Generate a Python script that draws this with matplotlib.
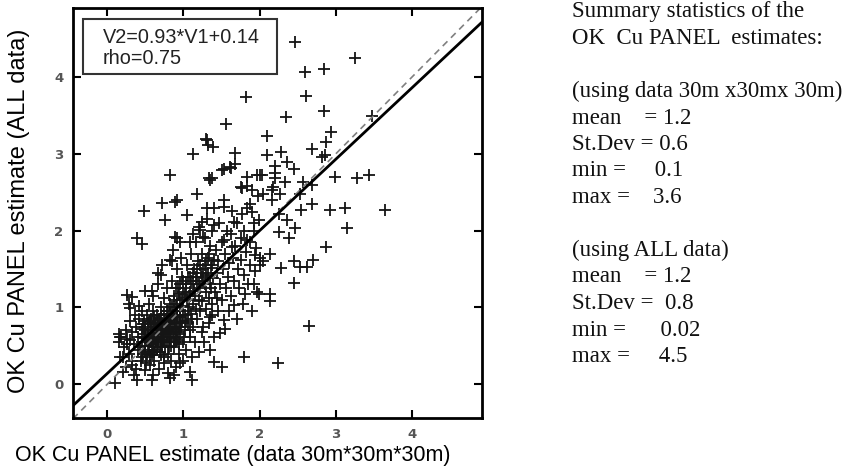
import numpy as np
import matplotlib
matplotlib.use("Agg")
import matplotlib.pyplot as plt
from matplotlib.patches import Rectangle

# fit shown in the box
slope, intercept = 0.93, 0.14
rho = 0.75

ticks = [0, 1, 2, 3, 4]
xlim = (-0.45, 4.92)
ylim = (-0.44, 4.90)

xlabel = "OK Cu PANEL estimate (data 30m*30m*30m)"
ylabel = "OK Cu PANEL estimate (ALL data)"

stats_lines = [
    "Summary statistics of the",
    "OK  Cu PANEL  estimates:",
    "",
    "(using data 30m x30mx 30m)",
    "mean    = 1.2",
    "St.Dev = 0.6",
    "min =     0.1",
    "max =    3.6",
    "",
    "(using ALL data)",
    "mean    = 1.2",
    "St.Dev =  0.8",
    "min =      0.02",
    "max =     4.5",
]

# panel estimates (x = 30m data, y = all data)
pts_sparse = [
    (2.47, 4.46), (3.25, 4.25), (2.59, 4.07), (2.85, 4.11), (1.82, 3.74), (2.61, 3.76),
    (2.85, 3.56), (2.35, 3.48), (1.56, 3.39), (3.47, 3.49), (2.10, 3.23), (2.94, 3.29),
    (1.30, 3.19), (1.32, 3.11), (1.39, 3.09), (1.12, 3.00), (1.68, 3.01), (2.10, 2.99),
    (2.28, 3.02), (2.69, 3.07), (2.87, 3.16), (2.86, 2.99), (2.82, 2.96), (2.36, 2.89),
    (1.68, 2.87), (2.20, 2.84), (2.45, 2.80), (1.53, 2.80), (1.62, 2.81), (2.20, 2.75),
    (0.83, 2.73), (1.33, 2.68), (1.37, 2.68), (1.83, 2.70), (2.01, 2.73), (2.20, 2.68),
    (2.34, 2.63), (2.57, 2.63), (2.99, 2.70), (3.28, 2.68), (3.43, 2.72), (1.75, 2.57),
    (1.83, 2.58), (2.18, 2.57), (1.96, 2.72), (2.03, 2.72), (2.69, 2.60), (1.90, 2.53),
    (2.05, 2.48), (2.16, 2.53), (2.16, 2.40), (2.27, 2.48), (2.53, 2.48), (2.69, 2.35),
    (2.55, 2.27), (2.93, 2.27), (3.12, 2.29), (3.65, 2.27), (3.15, 2.03), (1.90, 2.24),
    (1.99, 2.14), (2.25, 2.22), (2.36, 2.14), (2.25, 1.98), (2.38, 1.91), (2.47, 2.03),
    (2.87, 1.79), (2.14, 1.70), (1.94, 1.68), (2.05, 1.61), (2.01, 1.55), (2.28, 1.52),
    (2.45, 1.61), (2.53, 1.53), (2.62, 1.53), (2.70, 1.62), (2.45, 1.32), (1.92, 1.31),
    (1.99, 1.18), (2.14, 1.18), (2.13, 1.08), (2.65, 0.76), (2.24, 0.27), (1.79, 0.36),
    (1.51, 0.23), (1.40, 0.29), (1.35, 0.44), (1.48, 0.67), (1.53, 0.84), (1.35, 0.88),
    (1.11, 0.05), (1.09, 0.16), (1.26, 0.75), (1.37, 0.90), (1.66, 1.03), (1.44, 1.12),
    (1.81, 1.18), (0.96, 0.27), (0.87, 0.12), (0.48, 2.26), (0.72, 2.36), (0.89, 2.37),
    (0.76, 2.14), (0.39, 1.90), (0.46, 1.83), (0.89, 1.92), (0.83, 1.62), (0.70, 1.42),
    (0.26, 1.16), (0.50, 1.22), (0.59, 1.22), (0.32, 1.14), (1.31, 3.18), (1.35, 2.66),
    (1.18, 2.48), (0.91, 2.40), (1.22, 2.01), (1.31, 2.29), (1.53, 2.31), (1.61, 2.83),
    (1.51, 2.79), (0.10, 0.01), (0.28, 1.05), (0.17, 0.62), (0.26, 0.59), (0.21, 0.16),
    (0.39, 0.05), (0.59, 0.05), (0.85, 1.61), (1.77, 2.55), (1.88, 2.35), (1.24, 2.11),
    (1.40, 2.07), (1.66, 2.11), (1.77, 2.22), (0.91, 1.90), (1.09, 1.85), (1.26, 1.92),
    (1.53, 1.88), (1.64, 1.79), (1.83, 1.88), (1.92, 2.00), (0.30, 0.99), (0.15, 0.66),
    (0.26, 0.53), (0.17, 0.36), (0.32, 0.25),
]

pts_core = [
    (0.15, 0.55), (0.18, 0.62), (0.20, 0.35), (0.22, 0.48), (0.25, 0.70), (0.28, 0.40),
    (0.30, 0.58), (0.30, 0.82), (0.32, 0.30), (0.33, 0.68), (0.35, 0.52), (0.36, 0.90),
    (0.38, 0.20), (0.38, 0.75), (0.40, 0.45), (0.40, 0.62), (0.42, 0.85), (0.42, 1.02),
    (0.25, 0.22), (0.35, 0.12),
    (0.44, 0.30), (0.45, 0.55), (0.45, 0.72), (0.46, 0.95), (0.47, 0.40), (0.48, 0.65),
    (0.48, 0.82), (0.50, 0.50), (0.50, 0.60), (0.50, 0.75), (0.50, 0.18), (0.52, 0.90),
    (0.52, 0.35), (0.53, 0.68), (0.54, 0.78), (0.55, 0.45), (0.55, 0.58), (0.55, 1.05),
    (0.56, 0.25), (0.57, 0.70), (0.58, 0.62), (0.58, 0.85), (0.59, 0.40), (0.60, 0.52),
    (0.60, 0.75), (0.60, 0.95), (0.60, 0.12), (0.60, 1.15),
    (0.62, 0.30), (0.62, 0.66), (0.63, 0.80), (0.64, 0.55), (0.65, 0.45), (0.65, 0.70),
    (0.65, 0.90), (0.66, 1.30), (0.67, 0.60), (0.68, 0.75), (0.68, 0.20), (0.69, 0.85),
    (0.70, 0.50), (0.70, 0.65), (0.70, 1.00), (0.71, 0.38), (0.72, 0.72), (0.72, 0.80),
    (0.73, 0.58), (0.74, 0.92), (0.75, 0.28), (0.75, 0.68), (0.75, 1.12), (0.76, 0.48),
    (0.77, 0.78), (0.78, 0.62), (0.78, 0.85), (0.79, 1.25), (0.80, 0.40), (0.80, 0.70),
    (0.80, 0.95), (0.80, 0.15), (0.66, 1.45), (0.72, 1.55),
    (0.82, 0.55), (0.82, 0.82), (0.83, 1.05), (0.84, 0.65), (0.84, 0.30), (0.85, 0.75),
    (0.85, 1.35), (0.86, 0.90), (0.87, 0.48), (0.88, 0.62), (0.88, 1.15), (0.89, 0.80),
    (0.90, 0.70), (0.90, 1.00), (0.90, 0.22), (0.91, 1.50), (0.92, 0.58), (0.92, 0.88),
    (0.93, 1.25), (0.94, 0.40), (0.94, 0.75), (0.95, 1.10), (0.96, 0.65), (0.96, 0.95),
    (0.97, 1.65), (0.98, 0.82), (0.98, 1.40), (0.99, 0.30), (1.00, 0.55), (1.00, 1.02),
    (1.00, 1.20), (0.86, 1.75), (0.95, 1.85), (0.83, 0.08),
    (1.02, 0.70), (1.02, 0.90), (1.03, 1.30), (1.04, 0.45), (1.05, 1.10), (1.05, 1.55),
    (1.06, 0.80), (1.07, 1.00), (1.08, 0.62), (1.08, 1.40), (1.09, 1.20), (1.10, 0.92),
    (1.10, 1.70), (1.11, 0.35), (1.12, 1.05), (1.12, 1.30), (1.13, 0.75), (1.14, 1.50),
    (1.15, 1.15), (1.15, 0.55), (1.16, 0.98), (1.17, 1.85), (1.18, 1.35), (1.18, 0.85),
    (1.19, 1.60), (1.20, 1.10), (1.20, 0.42), (1.20, 2.05), (1.05, 2.20), (1.12, 1.95),
    (1.22, 1.25), (1.22, 0.95), (1.23, 1.45), (1.24, 0.68), (1.25, 1.70), (1.25, 1.08),
    (1.26, 1.35), (1.27, 0.55), (1.28, 1.55), (1.28, 1.90), (1.29, 1.20), (1.30, 0.98),
    (1.30, 1.42), (1.31, 2.15), (1.32, 1.65), (1.33, 1.12), (1.34, 0.80), (1.35, 1.30),
    (1.35, 1.80), (1.36, 1.52), (1.37, 2.00), (1.38, 1.05), (1.39, 1.38), (1.40, 1.62),
    (1.40, 0.62), (1.40, 2.30),
    (1.42, 1.20), (1.43, 1.75), (1.44, 1.45), (1.45, 0.95), (1.46, 1.60), (1.47, 2.10),
    (1.48, 1.30), (1.50, 1.85), (1.50, 1.10), (1.52, 1.50), (1.53, 2.40), (1.54, 0.72),
    (1.55, 1.70), (1.56, 1.25), (1.57, 2.00), (1.58, 1.40), (1.60, 1.58), (1.60, 0.95),
    (1.62, 1.95), (1.63, 1.15), (1.64, 2.25), (1.65, 1.65), (1.67, 1.35), (1.68, 1.80),
    (1.70, 0.85), (1.70, 2.10),
    (1.72, 1.50), (1.73, 1.25), (1.75, 1.90), (1.76, 1.62), (1.78, 1.05), (1.80, 2.00),
    (1.80, 1.42), (1.82, 1.72), (1.84, 2.30), (1.85, 1.30), (1.87, 1.85), (1.88, 1.55),
    (1.90, 0.95), (1.92, 2.10), (1.94, 1.48), (1.95, 1.78), (1.97, 1.20), (1.98, 2.45),
    (2.00, 1.65),
    (0.45, 0.62), (0.47, 0.78), (0.50, 0.42), (0.52, 0.58), (0.54, 0.50), (0.56, 0.82),
    (0.57, 0.55), (0.58, 0.72), (0.60, 0.65), (0.61, 0.42), (0.62, 0.88), (0.63, 0.60),
    (0.64, 0.72), (0.66, 0.52), (0.67, 0.82), (0.68, 0.66), (0.70, 0.58), (0.70, 0.78),
    (0.71, 0.90), (0.72, 0.48), (0.73, 0.65), (0.74, 0.75), (0.75, 0.55), (0.76, 0.85),
    (0.77, 0.68), (0.78, 0.95), (0.79, 0.55), (0.80, 0.80), (0.81, 0.62), (0.82, 0.72),
    (0.83, 0.92), (0.84, 0.50), (0.86, 0.68), (0.87, 0.85), (0.88, 0.72), (0.90, 0.60),
    (0.91, 0.80), (0.93, 0.68), (0.95, 0.88), (0.97, 0.75),
    (0.85, 1.00), (0.88, 1.10), (0.90, 1.25), (0.92, 1.05), (0.94, 1.18), (0.96, 1.30),
    (0.98, 1.12), (1.00, 1.35), (1.02, 1.18), (1.04, 1.25), (1.06, 1.40), (1.08, 1.15),
    (1.10, 1.35), (1.12, 1.45), (1.14, 1.22), (1.16, 1.40), (1.18, 1.50), (1.20, 1.30),
    (1.22, 1.55), (1.24, 1.40), (1.26, 1.50), (1.28, 1.30), (1.30, 1.60), (1.32, 1.45),
    (1.34, 1.70), (1.36, 1.25), (1.38, 1.55),
    (0.43, 0.48), (0.46, 0.35), (0.49, 0.70), (0.51, 0.28), (0.53, 0.80), (0.56, 0.38),
    (0.59, 0.58), (0.61, 0.78), (0.63, 0.48), (0.66, 0.62), (0.69, 0.42), (0.69, 0.72),
    (0.72, 0.62), (0.74, 0.35), (0.76, 0.70), (0.79, 0.82), (0.81, 0.48), (0.83, 0.60),
    (0.85, 0.85), (0.87, 0.95), (0.89, 0.55), (0.92, 0.95), (0.94, 0.52), (0.96, 0.80),
    (0.99, 0.90), (1.01, 0.62), (1.03, 0.82), (1.06, 0.95), (1.09, 0.70), (1.11, 0.85),
]

pts = np.array(pts_sparse + pts_core)
x30 = pts[:, 0]
yall = pts[:, 1]

W, H = 851, 470
fig = plt.figure(figsize=(W / 100, H / 100), dpi=100)
ax = fig.add_axes([73 / W, 52 / H, 409 / W, 410 / H])

ax.plot(x30, yall, '+', color='#151515', ms=8, mew=1.3)
xx = np.array(xlim)
ax.plot(xx, xx, '--', color='#808080', lw=1.2, dashes=(4, 3))
ax.plot(xx, slope * xx + intercept, '-', color='k', lw=2)

ax.set_xlim(xlim)
ax.set_ylim(ylim)
ax.set_xticks(ticks)
ax.set_yticks(ticks)
ax.tick_params(direction='in', length=6, width=1.5, top=True, right=True,
               labelsize=9.5, labelcolor='#555555', pad=7)
for lab in ax.get_xticklabels() + ax.get_yticklabels():
    lab.set_fontweight('bold')
for s in ax.spines.values():
    s.set_linewidth(2)

# fit box
ax.add_patch(Rectangle((0.0244, 0.839), 0.4744, 0.134, transform=ax.transAxes,
                       fill=False, edgecolor='#333333', lw=1.5, zorder=5))
ax.text(0.073, 0.927, "V2=%.2f*V1+%.2f" % (slope, intercept), transform=ax.transAxes,
        va='center', ha='left', fontsize=14.3, family='Liberation Sans', color='#222222')
ax.text(0.073, 0.878, "rho=%.2f" % rho, transform=ax.transAxes,
        va='center', ha='left', fontsize=14.3, family='Liberation Sans', color='#222222')

fig.text(233 / W, 1 - 455 / H, xlabel, ha='center', va='center', fontsize=15.5,
         family='Liberation Sans')
fig.text(19 / W, 1 - 211 / H, ylabel, ha='center', va='center', rotation=90,
         fontsize=17, family='Liberation Sans')

for i, line in enumerate(stats_lines):
    if line:
        fig.text(572 / W, 1 - (12 + 26.5 * i) / H, line, ha='left', va='center',
                 fontsize=16.5, family='Liberation Serif', color='#111111')

fig.savefig("out.png", dpi=100)
